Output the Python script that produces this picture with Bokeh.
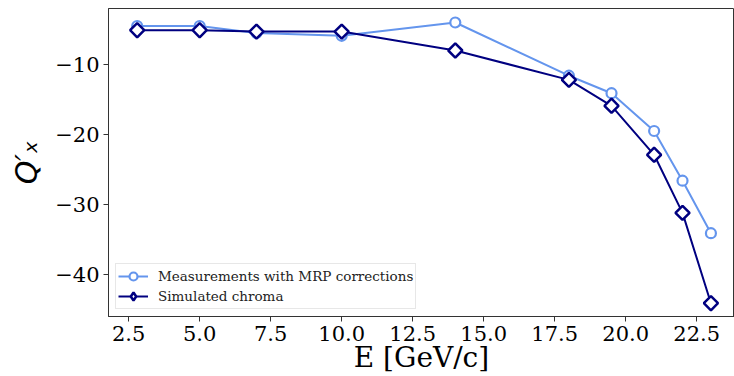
import math
from bokeh.plotting import figure
from bokeh.models import Range1d, FixedTicker, Legend, LegendItem
from bokeh.embed import file_html
from bokeh.resources import INLINE

# Beam energy [GeV/c]
energy = [2.8, 5.0, 7.0, 10.0, 14.0, 18.0, 19.5, 21.0, 22.0, 23.0]

# Horizontal chromaticity Q'_x
measured = [-4.5, -4.5, -5.5, -5.9, -4.0, -11.6, -14.1, -19.5, -26.6, -34.1]
simulated = [-5.1, -5.1, -5.3, -5.3, -8.0, -12.2, -15.9, -22.9, -31.2, -44.1]

x_ticks = [2.5, 5.0, 7.5, 10.0, 12.5, 15.0, 17.5, 20.0, 22.5]
x_tick_labels = ["2.5", "5.0", "7.5", "10.0", "12.5", "15.0", "17.5", "20.0", "22.5"]
y_ticks = [-10, -20, -30, -40]
y_tick_labels = ["\u221210", "\u221220", "\u221230", "\u221240"]

SERIF = "DejaVu Serif"
MEAS_COLOR = "#6495ED"   # cornflowerblue
SIM_COLOR = "#000080"    # navy
AXIS_COLOR = "#333333"

p = figure(
    width=734, height=376,
    output_backend="svg", toolbar_location=None,
    x_range=Range1d(1.79, 23.83), y_range=Range1d(-46.0, -2.0),
    min_border_left=108, min_border_right=0,
    min_border_top=8, min_border_bottom=60,
)
p.grid.visible = False
p.outline_line_color = AXIS_COLOR
p.outline_line_width = 1
p.background_fill_color = "white"
p.border_fill_color = "white"

# axes
p.xaxis.ticker = FixedTicker(ticks=x_ticks)
p.xaxis.major_label_overrides = dict(zip(x_ticks, x_tick_labels))
p.yaxis.ticker = FixedTicker(ticks=y_ticks)
p.yaxis.major_label_overrides = dict(zip(y_ticks, y_tick_labels))
for ax in (p.xaxis[0], p.yaxis[0]):
    ax.axis_line_color = AXIS_COLOR
    ax.major_tick_line_color = AXIS_COLOR
    ax.major_tick_in = 0
    ax.major_tick_out = 5
    ax.minor_tick_line_color = None
    ax.major_label_text_font = SERIF
    ax.major_label_text_font_size = "21px"
    ax.major_label_text_color = "black"
    ax.major_label_standoff = 4
p.xaxis.axis_label = "E [GeV/c]"
p.xaxis.axis_label_text_font = SERIF
p.xaxis.axis_label_text_font_size = "28px"
p.xaxis.axis_label_text_font_style = "normal"
p.xaxis.axis_label_standoff = -3
p.xaxis.axis_label_text_color = "black"

p.yaxis.axis_label = "Q\u2032\u2093"
p.yaxis.axis_label_text_font = "DejaVu Sans"
p.yaxis.axis_label_text_font_size = "30px"
p.yaxis.axis_label_text_font_style = "italic"
p.yaxis.axis_label_standoff = 8
p.yaxis.axis_label_text_color = "black"

# series
ml = p.line(energy, measured, line_color=MEAS_COLOR, line_width=2)
ms = p.scatter(energy, measured, marker="circle", size=10, fill_color="white",
               line_color=MEAS_COLOR, line_width=2.2)
sl = p.line(energy, simulated, line_color=SIM_COLOR, line_width=2)
ss = p.scatter(energy, simulated, marker="square", angle=math.pi / 4, size=10,
               fill_color="white", line_color=SIM_COLOR, line_width=2.5)
# legend swatch for the simulated markers (legend swatches are drawn unrotated)
ss_key = p.scatter(energy, simulated, marker="diamond", size=14,
                   fill_color="white", line_color=SIM_COLOR, line_width=2.5,
                   visible=False)

legend = Legend(
    items=[
        LegendItem(label="Measurements with MRP corrections", renderers=[ml, ms]),
        LegendItem(label="Simulated chroma", renderers=[sl, ss_key]),
    ],
    location="bottom_left",
    label_text_font=SERIF, label_text_font_size="13.5px", label_text_color="#222222",
    glyph_width=30, glyph_height=20, label_height=20, spacing=0,
    label_standoff=10, padding=2, margin=7,
    border_line_color="#d0d0d0", border_line_width=1,
    background_fill_color="white", background_fill_alpha=0.8,
)
p.add_layout(legend)

open("out.html", "w").write(file_html(p, INLINE))
